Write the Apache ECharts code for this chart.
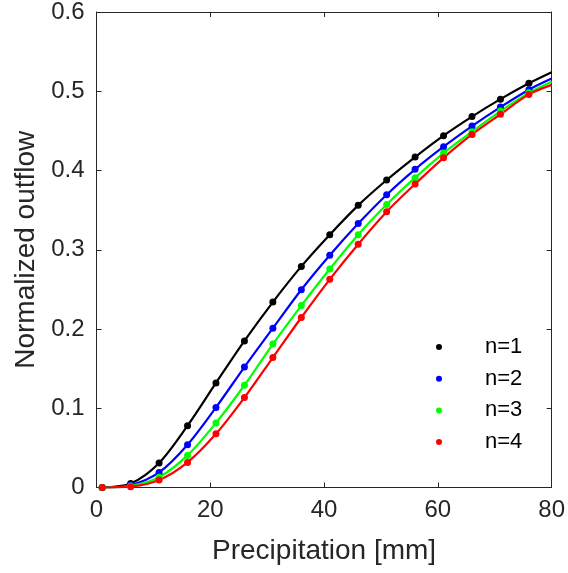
<!DOCTYPE html>
<html>
<head>
<meta charset="utf-8">
<script src="https://cdn.jsdelivr.net/npm/echarts@6/dist/echarts.min.js"></script>
<style>html,body{margin:0;padding:0;background:#fff}#c{width:568px;height:573px}</style>
</head>
<body>
<div id="c"></div>
<script>
const precip = [1, 6, 11, 16, 21, 26, 31, 36, 41, 46, 51, 56, 61, 66, 71, 76];
const n1 = [0, 0.005, 0.031, 0.078, 0.132, 0.185, 0.234, 0.279, 0.319, 0.356, 0.388, 0.417, 0.444, 0.468, 0.490, 0.510];
const n2 = [0, 0.003, 0.019, 0.054, 0.101, 0.152, 0.201, 0.2495, 0.293, 0.333, 0.3695, 0.4015, 0.430, 0.456, 0.480, 0.502];
const n3 = [0, 0.002, 0.013, 0.0405, 0.0815, 0.129, 0.181, 0.2296, 0.2757, 0.319, 0.357, 0.391, 0.422, 0.449, 0.475, 0.498];
const n4 = [0, 0.001, 0.0094, 0.0317, 0.0677, 0.1135, 0.164, 0.2145, 0.2627, 0.307, 0.348, 0.383, 0.416, 0.4455, 0.471, 0.496];
// curve end values at x = 80
const endX = 80;
const endVals = [0.524, 0.516, 0.512, 0.508];
const names = ['n=1', 'n=2', 'n=3', 'n=4'];
const colors = ['#000000', '#0000ff', '#00ff00', '#ff0000'];
const allSeries = [n1, n2, n3, n4];

const font = 'Liberation Sans, Arial, Helvetica, sans-serif';
const axisColor = '#262626';

const series = [];
allSeries.forEach((vals, i) => {
  const lineData = precip.map((x, j) => [x, vals[j]]);
  lineData.push([endX, endVals[i]]);
  series.push({
    name: 'fit' + (i + 1),
    type: 'line',
    data: lineData,
    smooth: 0.3,
    showSymbol: false,
    symbol: 'none',
    lineStyle: { color: colors[i], width: 2.2 },
    z: 2 + i
  });
});
allSeries.forEach((vals, i) => {
  series.push({
    name: names[i],
    type: 'scatter',
    data: precip.map((x, j) => [x, vals[j]]),
    symbol: 'circle',
    symbolSize: 7,
    itemStyle: { color: colors[i], opacity: 1 },
    z: 10 + i
  });
});

const chart = echarts.init(document.getElementById('c'), null, { renderer: 'canvas' });
chart.setOption({
  animation: false,
  backgroundColor: '#ffffff',
  grid: { left: 96.5, right: 15.5, top: 10.5, bottom: 85.5, containLabel: false },
  legend: {
    data: names,
    orient: 'vertical',
    left: 431,
    top: 331,
    icon: 'circle',
    itemWidth: 6,
    itemHeight: 6,
    itemGap: 9.7,
    itemStyle: { opacity: 1 },
    textStyle: { fontFamily: font, fontSize: 22, color: '#000', padding: [0, 0, 0, 38] }
  },
  xAxis: [{
    type: 'value', min: 0, max: 80, interval: 20,
    name: 'Precipitation [mm]', nameLocation: 'middle', nameGap: 50,
    nameTextStyle: { fontFamily: font, fontSize: 28, color: axisColor },
    axisLine: { show: true, lineStyle: { color: axisColor, width: 1 } },
    axisTick: { show: true, inside: true, length: 5, lineStyle: { color: axisColor } },
    axisLabel: { fontFamily: font, fontSize: 24, color: axisColor, margin: 11 },
    splitLine: { show: false }
  }, {
    type: 'value', min: 0, max: 80, interval: 20, position: 'top',
    axisLine: { show: true, onZero: false, lineStyle: { color: axisColor, width: 1 } },
    axisTick: { show: true, inside: true, length: 5, lineStyle: { color: axisColor } },
    axisLabel: { show: false }, splitLine: { show: false }
  }],
  yAxis: [{
    type: 'value', min: 0, max: 0.6, interval: 0.1,
    name: 'Normalized outflow', nameLocation: 'middle', nameGap: 54.5,
    nameTextStyle: { fontFamily: font, fontSize: 28, color: axisColor },
    axisLine: { show: true, lineStyle: { color: axisColor, width: 1 } },
    axisTick: { show: true, inside: true, length: 5, lineStyle: { color: axisColor } },
    axisLabel: { fontFamily: font, fontSize: 24, color: axisColor, margin: 12,
      formatter: v => (Math.round(v * 10) / 10).toString() },
    splitLine: { show: false }
  }, {
    type: 'value', min: 0, max: 0.6, interval: 0.1, position: 'right',
    axisLine: { show: true, onZero: false, lineStyle: { color: axisColor, width: 1 } },
    axisTick: { show: true, inside: true, length: 5, lineStyle: { color: axisColor } },
    axisLabel: { show: false }, splitLine: { show: false }
  }],
  series: series
});
</script>
</body>
</html>
